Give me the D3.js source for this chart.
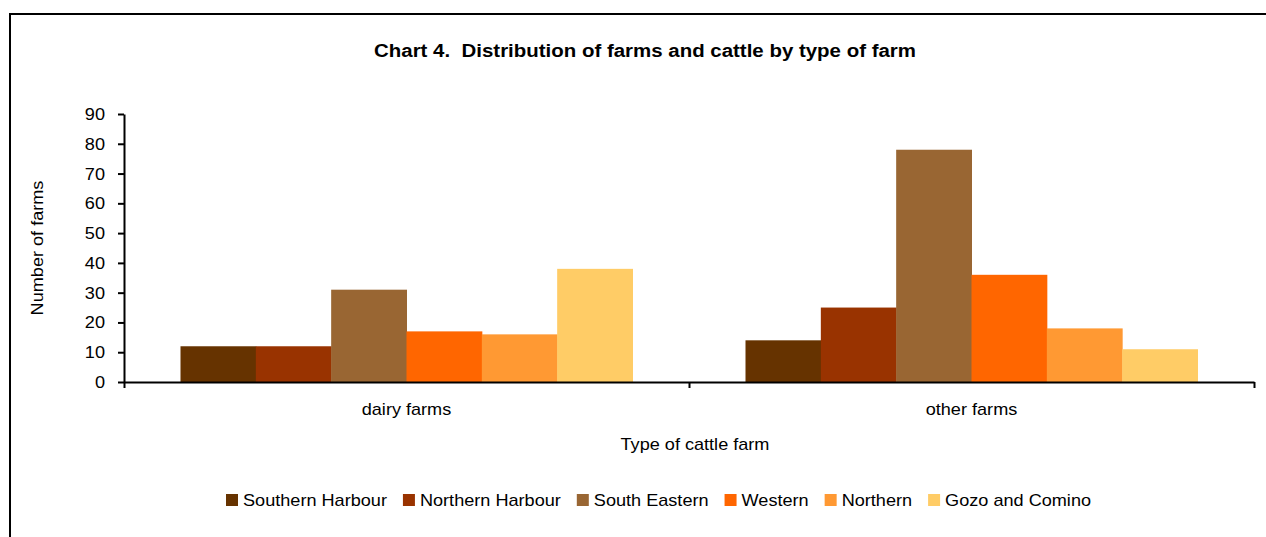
<!DOCTYPE html>
<html lang="en">
<head>
<meta charset="UTF-8">
<title>Chart 4. Distribution of farms and cattle by type of farm</title>
<script src="https://d3js.org/d3.v7.min.js"></script>
<style>
    body { margin: 0; background: white; }
    svg { display: block; font-family: "Liberation Sans", Arial, sans-serif; }
    text { white-space: pre; }
    .tick text { font-size: 17px; fill: #000; }
    .domain, .tick line { stroke: #000; stroke-width: 2; }
</style>
</head>
<body>
<script>
    // data
    var categories = ["dairy farms", "other farms"];
    var regions = ["Southern Harbour", "Northern Harbour", "South Eastern", "Western", "Northern", "Gozo and Comino"];
    var dairyFarms = [12, 12, 31, 17, 16, 38];
    var otherFarms = [14, 25, 78, 36, 18, 11];
    var colours = ["#663300", "#993300", "#996633", "#FF6600", "#FF9933", "#FFCC66"];
    var yTicks = [0, 10, 20, 30, 40, 50, 60, 70, 80, 90];

    var width = 1266, height = 537;
    var plot = { left: 124, right: 1254, top: 114, bottom: 382 };
    var stretch = 1.065; // the original fonts are a little wider

    var svg = d3.select("body").append("svg")
        .attr("width", width)
        .attr("height", height);

    // outer frame
    svg.append("rect")
        .attr("x", 10).attr("y", 14)
        .attr("width", width + 20).attr("height", height + 20)
        .attr("fill", "none").attr("stroke", "#000").attr("stroke-width", 2);

    var rows = categories.map(function(c, i) {
        var vals = i === 0 ? dairyFarms : otherFarms;
        return { cat: c, values: regions.map(function(r, j) { return { region: r, value: vals[j] }; }) };
    });

    var x0 = d3.scaleBand().domain(categories).range([plot.left, plot.right]).paddingInner(0.2).paddingOuter(0.1);
    var x1 = d3.scaleBand().domain(regions).range([0, x0.bandwidth()]);
    var y = d3.scaleLinear().domain([0, 90]).range([plot.bottom, plot.top]);
    var colour = d3.scaleOrdinal().domain(regions).range(colours);

    svg.append("text")
        .attr("class", "title")
        .attr("x", 645).attr("y", 57)
        .attr("text-anchor", "middle")
        .style("font-size", "18px").style("font-weight", "bold")
        .text("Chart 4.  Distribution of farms and cattle by type of farm");

    svg.append("g").selectAll("g")
        .data(rows)
        .join("g")
        .attr("transform", function(d) { return "translate(" + x0(d.cat) + ",0)"; })
        .selectAll("rect")
        .data(function(d) { return d.values; })
        .join("rect")
        .attr("x", function(d) { return x1(d.region); })
        .attr("y", function(d) { return y(d.value); })
        .attr("width", x1.bandwidth() + 0.5)
        .attr("height", function(d) { return y(0) - y(d.value); })
        .attr("fill", function(d) { return colour(d.region); });

    // y axis
    svg.append("g")
        .attr("transform", "translate(" + plot.left + ",0)")
        .call(d3.axisLeft(y).tickValues(yTicks).tickSize(6).tickPadding(13).tickSizeOuter(0));

    // x axis, ticks at category boundaries
    var xEdge = d3.scaleLinear().domain([0, categories.length]).range([plot.left, plot.right]);
    svg.append("g")
        .attr("transform", "translate(0," + plot.bottom + ")")
        .call(d3.axisBottom(xEdge).tickValues(d3.range(categories.length + 1)).tickSize(6).tickFormat("").tickSizeOuter(0));

    svg.append("g").selectAll("text")
        .data(categories)
        .join("text")
        .attr("x", function(d) { return x0(d) + x0.bandwidth() / 2; })
        .attr("y", 415)
        .attr("text-anchor", "middle")
        .style("font-size", "17px")
        .text(function(d) { return d; });

    svg.append("text")
        .attr("x", 695).attr("y", 450)
        .attr("text-anchor", "middle")
        .style("font-size", "17px")
        .text("Type of cattle farm");

    svg.append("text")
        .attr("transform", "translate(43,248) rotate(-90)")
        .attr("text-anchor", "middle")
        .style("font-size", "17px")
        .text("Number of farms");

    // widen glyphs a touch to match the original
    svg.selectAll("text").each(function() {
        var k = d3.select(this).classed("title") ? 1.136 : stretch;
        var len = this.getComputedTextLength();
        d3.select(this).attr("textLength", len * k).attr("lengthAdjust", "spacingAndGlyphs");
    });

    // legend
    var legend = svg.append("g");
    var lx = 226;
    regions.forEach(function(r) {
        var item = legend.append("g").attr("transform", "translate(" + lx + ",494)");
        item.append("rect").attr("width", 12).attr("height", 12).attr("fill", colour(r));
        var t = item.append("text").attr("x", 17).attr("y", 12).style("font-size", "17px").text(r);
        var len = t.node().getComputedTextLength() * stretch;
        t.attr("textLength", len).attr("lengthAdjust", "spacingAndGlyphs");
        lx += 17 + len + 16;
    });
</script>
</body>
</html>
